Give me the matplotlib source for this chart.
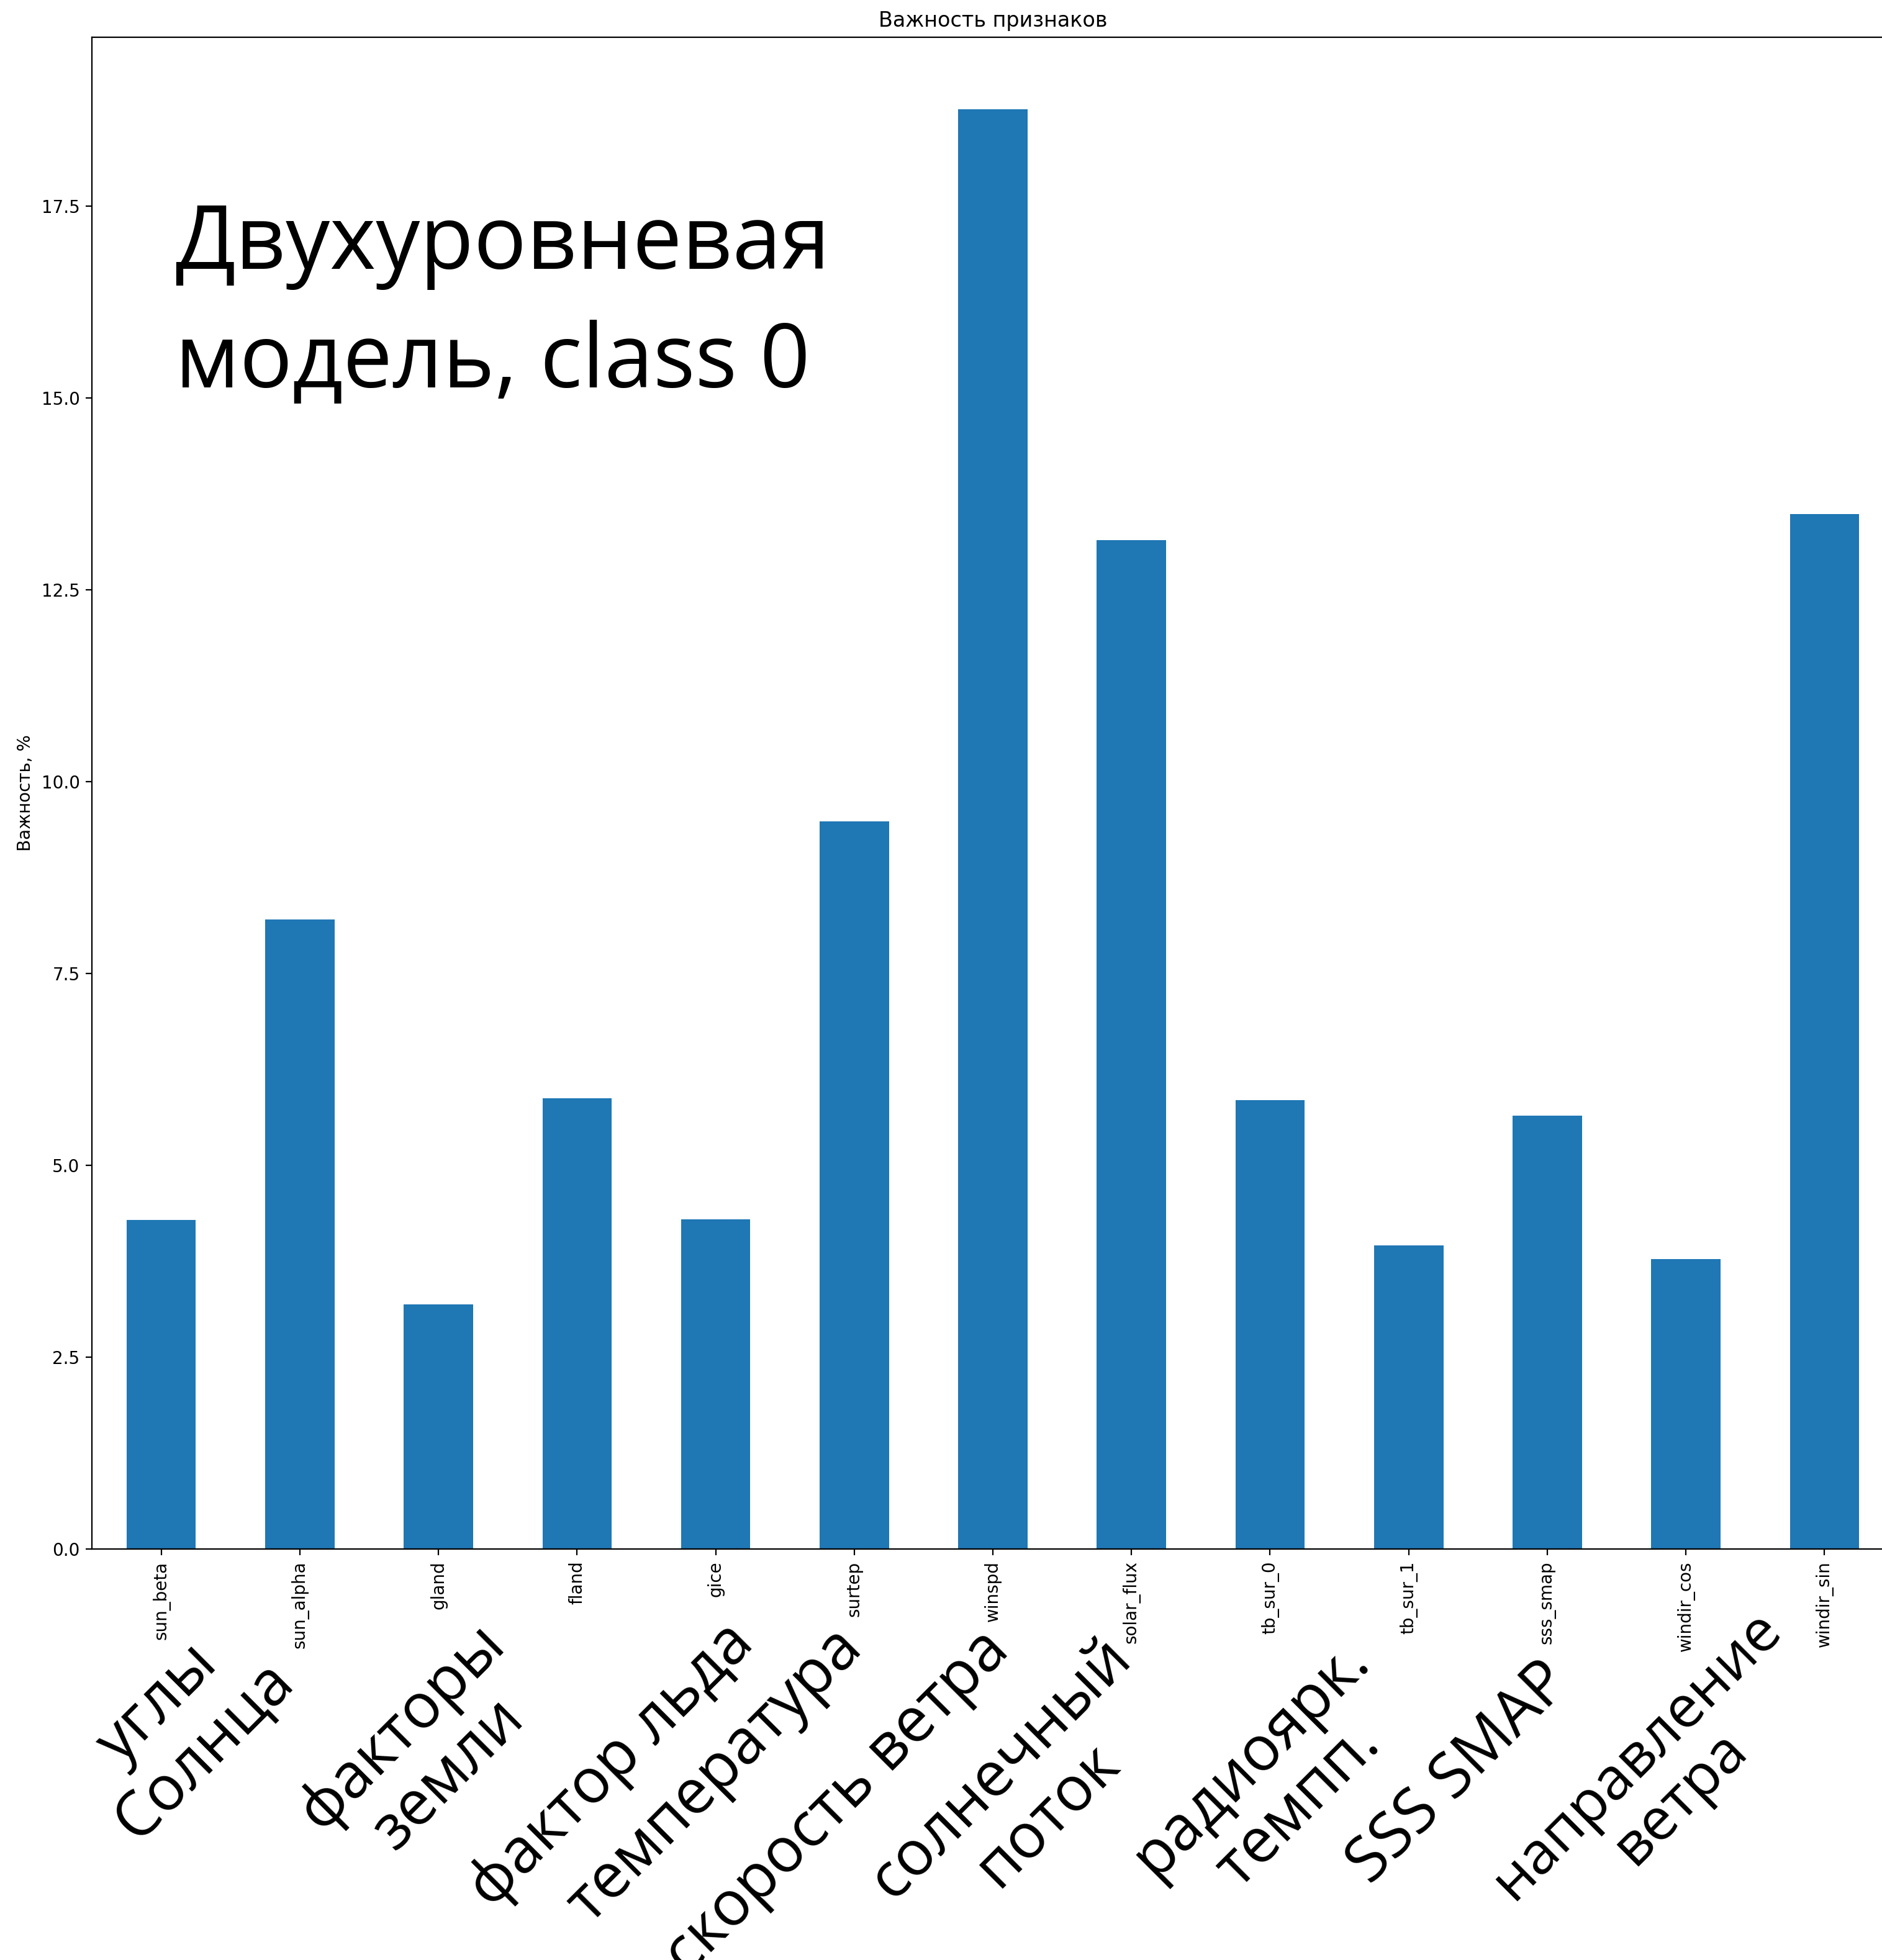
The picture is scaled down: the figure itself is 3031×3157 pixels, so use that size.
import matplotlib
matplotlib.use('Agg')
import matplotlib.pyplot as plt
import pandas as pd

features = ['sun_beta', 'sun_alpha', 'gland', 'fland', 'gice', 'surtep', 'winspd',
            'solar_flux', 'tb_sur_0', 'tb_sur_1', 'sss_smap', 'windir_cos', 'windir_sin']
importance = [4.29, 8.20, 3.19, 5.87, 4.30, 9.48, 18.76,
              13.15, 5.85, 3.96, 5.65, 3.78, 13.49]

overlay_title = ['Двухуровневая', 'модель, class 0']

# подписи групп признаков и их центры (доли фигуры)
group_labels = ['углы\nСолнца', 'факторы\nземли', 'фактор льда', 'температура',
                'скорость ветра', 'солнечный\nпоток', 'радиоярк.\nтемпп.',
                'SSS SMAP', 'направление\nветра']
group_x = [0.0964, 0.226, 0.325, 0.380, 0.445, 0.5445, 0.6774, 0.7754, 0.8815]
group_y = [0.1185, 0.1068, 0.0992, 0.094, 0.080, 0.0855, 0.0905, 0.0953, 0.0935]
group_size = [36, 36, 36, 36, 36, 36, 36, 36, 34]

W, H, DPI = 3031, 3157, 200
fig = plt.figure(figsize=(W / DPI, H / DPI), dpi=DPI)
ax = fig.add_axes([148 / W, 1 - 2495 / H, (3050 - 148) / W, (2495 - 60) / H])

s = pd.Series(importance, index=features)
s.plot(kind='bar', ax=ax, color='#1f77b4', width=0.5)
ax.set_xlim(-0.5, 12.5)
ax.set_ylim(0, 19.7)
ax.set_title('Важность признаков', fontsize=12)
ax.set_ylabel('Важность, %')

big = 'Open Sans'
fig.text(282 / W, 1 - 433 / H, overlay_title[0], fontsize=51, family=big, va='baseline')
fig.text(282 / W, 1 - 624 / H, overlay_title[1], fontsize=51, family=big, va='baseline')

for lab, x, y, fs in zip(group_labels, group_x, group_y, group_size):
    fig.text(x, y, lab, fontsize=fs, family=big, rotation=45, ha='center', va='center',
             rotation_mode='anchor', multialignment='center', linespacing=1.08)

fig.savefig('out.png', dpi=DPI)
